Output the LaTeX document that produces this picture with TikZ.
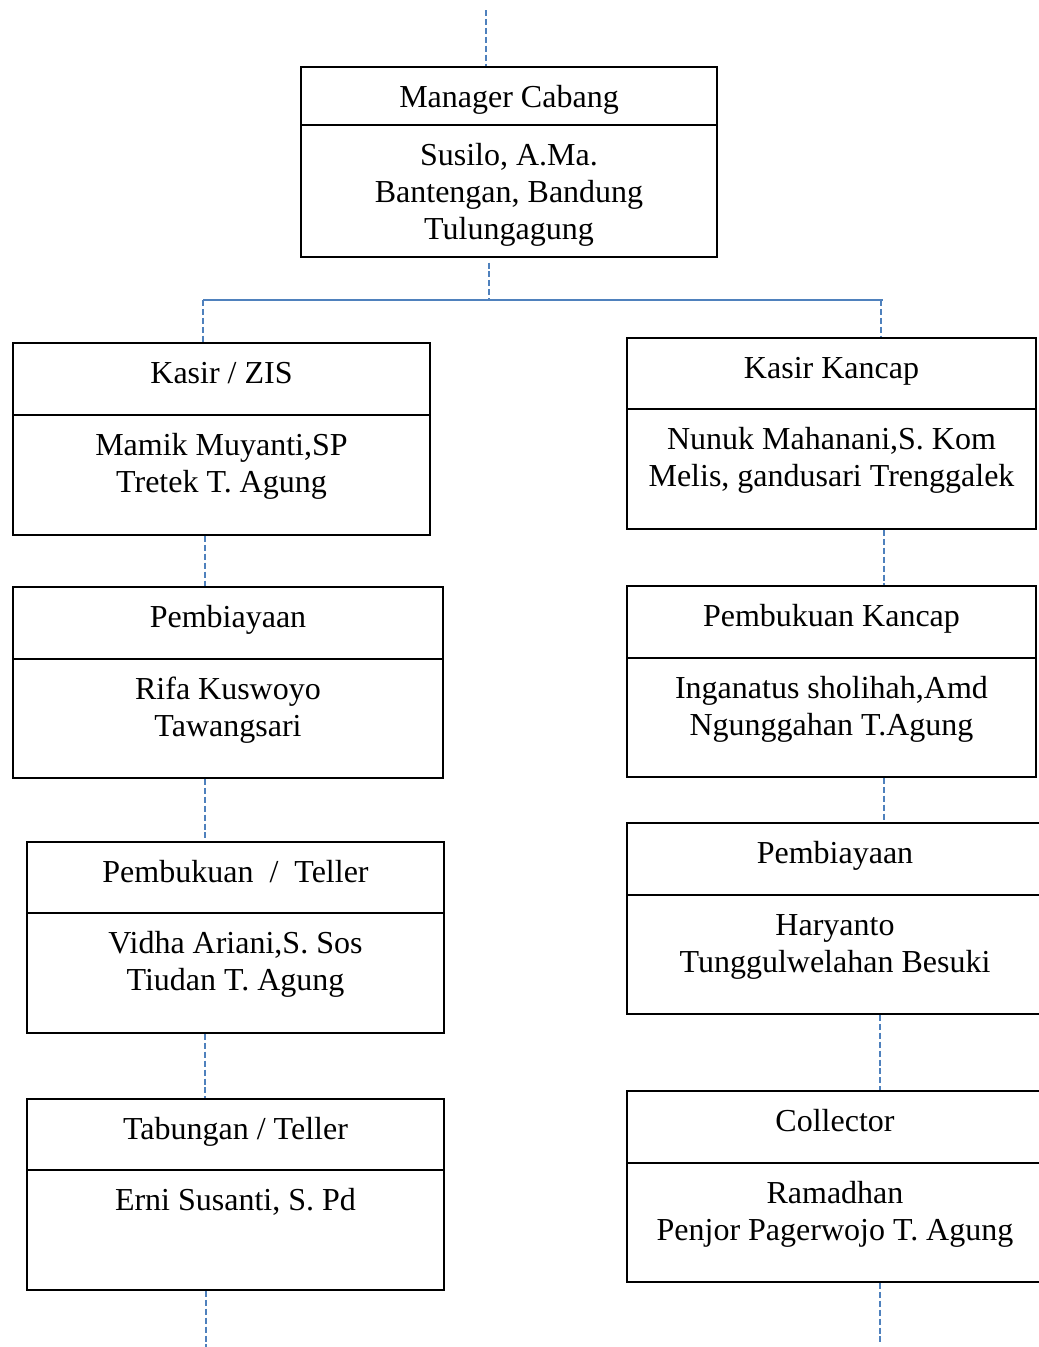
\documentclass[tikz,border=0pt]{standalone}
\usepackage{fontspec}
\setmainfont{Liberation Serif}
\usetikzlibrary{fit,calc}

\definecolor{linkblue}{RGB}{79,129,189}

\tikzset{
  unitbox/.style={draw=black, line width=1.3pt, inner sep=0pt},
  boxline/.style={draw=black, line width=1.3pt},
  caption/.style={font=\fontsize{24pt}{27.75pt}\selectfont, inner sep=0pt, anchor=base},
  bodytext/.style={caption, text width=300pt, align=flush center},
  link/.style={draw=linkblue, line width=1pt, dash pattern=on 4.5pt off 2.2pt},
  bar/.style={draw=linkblue, line width=1.2pt},
}

% #1 name, #2 left, #3 top, #4 right, #5 bottom, #6 divider, #7 title, #8 body
\newcommand\orgunit[8]{%
  \node[unitbox, fit={(#2,#3) (#4,#5)}] (#1) {};
  \draw[boxline] (#2,#6) -- (#4,#6);
  \node[caption] (#1-title) at ({(#2+#4)/2},{#3+40}) {#7};
  \node[bodytext] (#1-body) at ({(#2+#4)/2},{#6+40}) {#8};
}

\begin{document}
\begin{tikzpicture}[x=0.75pt, y=-0.75pt]
  \useasboundingbox (0,0) rectangle (1039,1347);
  \clip (0,0) rectangle (1039,1347);

  % head office
  \orgunit{mgr}{301}{67}{717}{257}{125}{Manager Cabang}
    {Susilo, A.Ma.\\Bantengan, Bandung\\Tulungagung}

  % left branch
  \orgunit{kzis}{13}{343}{430}{535}{415}{Kasir / ZIS}
    {Mamik Muyanti,SP\\Tretek T. Agung}
  \orgunit{pby}{13}{587}{443}{778}{659}{Pembiayaan}
    {Rifa Kuswoyo\\Tawangsari}
  \orgunit{pbt}{27}{842}{444}{1033}{913}{Pembukuan \ / \ Teller}
    {Vidha Ariani,S. Sos\\Tiudan T. Agung}
  \orgunit{tbt}{27}{1099}{444}{1290}{1170}{Tabungan / Teller}
    {Erni Susanti, S. Pd}

  % right branch
  \orgunit{kkc}{627}{338}{1036}{529}{409}{Kasir Kancap}
    {Nunuk Mahanani,S. Kom\\Melis, gandusari Trenggalek}
  \orgunit{pkc}{627}{586}{1036}{777}{658}{Pembukuan Kancap}
    {Inganatus sholihah,Amd\\Ngunggahan T.Agung}
  \orgunit{pbr}{627}{823}{1043}{1014}{895}{Pembiayaan}
    {Haryanto\\Tunggulwelahan Besuki}
  \orgunit{col}{627}{1091}{1043}{1282}{1163}{Collector}
    {Ramadhan\\Penjor Pagerwojo T. Agung}

  % connector lanes
  \coordinate (top) at (486,10);
  \coordinate (hub) at (489,300);
  \coordinate (hl) at (203,300);
  \coordinate (hr) at (883,300);
  \coordinate (dropr) at (881,300);
  \coordinate (lanel) at (205,0);
  \coordinate (laner) at (884,0);
  \coordinate (laner2) at (880,0);
  \coordinate (endl) at (206,1347);
  \coordinate (endr) at (880,1345);

  % connectors
  \draw[link] (top) -- (mgr.north -| top);
  \draw[link] ([yshift=-3.5pt]mgr.south -| hub) -- (hub);
  \draw[bar] (hl) -- (hr);
  \draw[link] (hl) -- (kzis.north -| hl);
  \draw[link] (dropr) -- (kkc.north -| dropr);

  \draw[link] (kzis.south -| lanel) -- (pby.north -| lanel);
  \draw[link] (pby.south -| lanel) -- (pbt.north -| lanel);
  \draw[link] (pbt.south -| lanel) -- (tbt.north -| lanel);
  \draw[link] (tbt.south -| endl) -- (endl);

  \draw[link] (kkc.south -| laner) -- (pkc.north -| laner);
  \draw[link] (pkc.south -| laner) -- (pbr.north -| laner);
  \draw[link] (pbr.south -| laner2) -- (col.north -| laner2);
  \draw[link] (col.south -| endr) -- (endr);
\end{tikzpicture}
\end{document}
